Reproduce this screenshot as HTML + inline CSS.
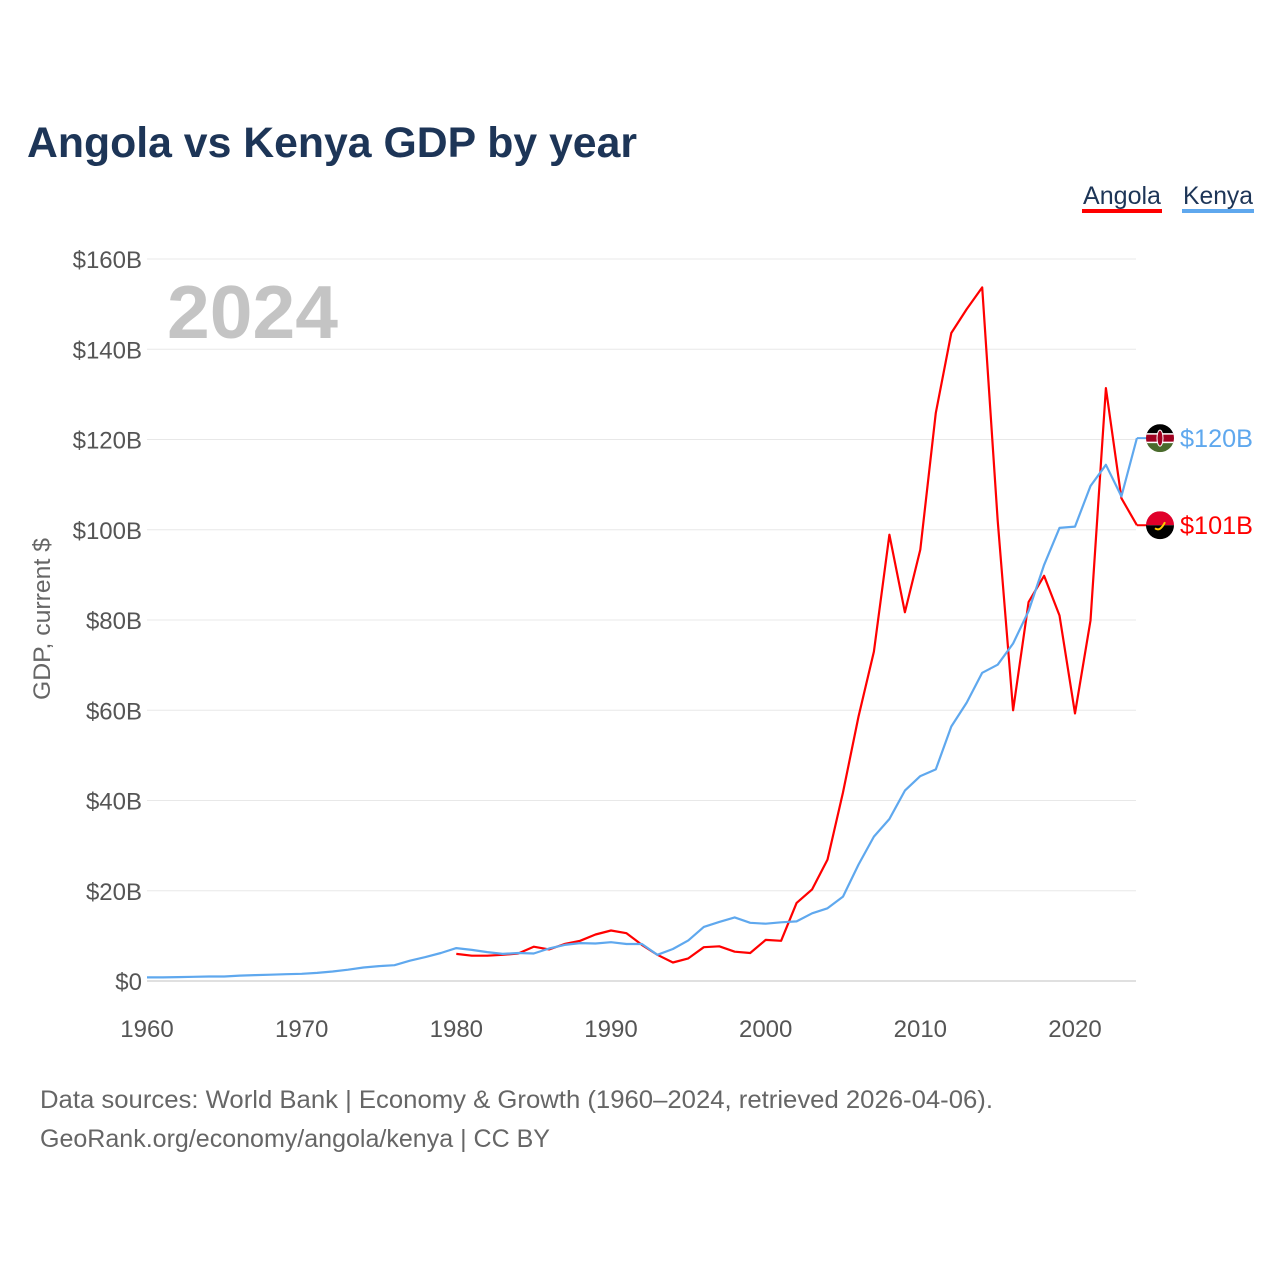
<!DOCTYPE html>
<html><head><meta charset="utf-8"><style>
body{margin:0;background:#fff;}
svg{display:block;font-family:"Liberation Sans",sans-serif;}
</style></head><body>
<svg id="chart" width="1280" height="1280" viewBox="0 0 1280 1280">
<text x="27" y="157" font-size="43" font-weight="bold" fill="#1d3557" textLength="610" lengthAdjust="spacingAndGlyphs">Angola vs Kenya GDP by year</text>
<g>
<text x="1083" y="204" font-size="25" fill="#1d3557" textLength="78" lengthAdjust="spacingAndGlyphs">Angola</text>
<rect x="1082" y="209" width="80" height="4" fill="#ff0000"/>
<text x="1183" y="204" font-size="25" fill="#1d3557" textLength="70" lengthAdjust="spacingAndGlyphs">Kenya</text>
<rect x="1182" y="209" width="72" height="4" fill="#5fa8ee"/>
</g>
<g id="grid"></g>
<g id="yticks"></g>
<g id="xticks"></g>
<text x="167" y="338" font-size="75" font-weight="bold" fill="#c4c4c4" textLength="171" lengthAdjust="spacingAndGlyphs">2024</text>
<text transform="translate(50,619) rotate(-90)" text-anchor="middle" font-size="24" fill="#666" textLength="162" lengthAdjust="spacingAndGlyphs">GDP, current $</text>
<g id="series"></g>
<g id="ends"></g>
<text x="40" y="1108" font-size="25" fill="#666" textLength="953" lengthAdjust="spacingAndGlyphs">Data sources: World Bank | Economy &amp; Growth (1960–2024, retrieved 2026-04-06).</text>
<text x="40" y="1147" font-size="25" fill="#666" textLength="510" lengthAdjust="spacingAndGlyphs">GeoRank.org/economy/angola/kenya | CC BY</text>
</svg>
<script>
const yTicks=[0,20,40,60,80,100,120,140,160];
const yTickLabels=["$0","$20B","$40B","$60B","$80B","$100B","$120B","$140B","$160B"];
const xTicks=[1960,1970,1980,1990,2000,2010,2020];
const angolaStart=1980;
const angolaValues=[6.0,5.6,5.6,5.8,6.1,7.6,7.0,8.2,8.9,10.3,11.2,10.6,8.0,5.8,4.1,5.0,7.5,7.7,6.5,6.2,9.1,8.9,17.3,20.3,26.9,41.8,58.6,73.0,98.9,81.7,95.6,125.9,143.6,148.9,153.7,102,60.0,84.0,89.8,81.0,59.3,79.9,131.4,107,101];
const kenyaStart=1960;
const kenyaValues=[0.79,0.79,0.87,0.93,1.0,1.0,1.2,1.3,1.4,1.5,1.6,1.8,2.1,2.5,3.0,3.3,3.5,4.5,5.3,6.2,7.3,6.9,6.4,6.0,6.2,6.1,7.2,8.0,8.4,8.3,8.6,8.2,8.2,5.8,7.1,9.0,12.0,13.1,14.1,12.9,12.7,13.0,13.2,15.0,16.1,18.7,25.8,32.0,35.9,42.2,45.4,46.9,56.4,61.7,68.3,70.1,74.8,82.0,92.2,100.4,100.7,109.7,114.4,107.4,120.3];
const NS="http://www.w3.org/2000/svg";
const x=yr=>147+(yr-1960)*(928/60);
const y=v=>981-v*(722/160);
function mk(t,a,p){const e=document.createElementNS(NS,t);for(const k in a)e.setAttribute(k,a[k]);p.appendChild(e);return e;}
const grid=document.getElementById('grid'),yt=document.getElementById('yticks'),xt=document.getElementById('xticks');
yTicks.forEach((v,i)=>{
 const l=mk('line',{x1:147,x2:1136,y1:y(v),y2:y(v),stroke:v===0?'#e0e0e0':'#e8e8e8','stroke-width':v===0?2:1},grid);
 
 
 const t=mk('text',{x:142,y:y(v)+9,'text-anchor':'end','font-size':24,fill:'#555'},yt);
 t.textContent=yTickLabels[i];
 
 
});
xTicks.forEach(yr=>{
 const t=mk('text',{x:x(yr),y:1037,'text-anchor':'middle','font-size':24,fill:'#555'},xt);
 t.textContent=yr;
 
 
});
const ser=document.getElementById('series');
function line(vals,start,color,name){
 const pts=vals.map((v,i)=>x(start+i).toFixed(1)+','+y(v).toFixed(1)).join(' ');
 const p=mk('polyline',{points:pts,fill:'none',stroke:color,'stroke-width':2.2,'stroke-linejoin':'round'},ser);
 
 
}
line(angolaValues,angolaStart,'#ff0000','angola-line');
line(kenyaValues,kenyaStart,'#5fa8ee','kenya-line');
const ends=document.getElementById('ends');
function endLabel(vals,start,color,name,flag){
 const v=vals[vals.length-1],yr=start+vals.length-1;
 const py=y(v);
 mk('line',{x1:x(yr),x2:1147,y1:py,y2:py,stroke:color,'stroke-width':2},ends);
 const g=mk('g',{},ends);
 
 
 const cid='c'+name;
 const cp=mk('clipPath',{id:cid},g);mk('circle',{cx:1160,cy:py,r:14},cp);
 const fg=mk('g',{'clip-path':'url(#'+cid+')'},g);
 if(flag==='ke'){
  mk('rect',{x:1146,y:py-14,width:28,height:10,fill:'#000'},fg);
  mk('rect',{x:1146,y:py-4,width:28,height:8,fill:'#a00020'},fg);
  mk('rect',{x:1146,y:py+4,width:28,height:10,fill:'#4a6b2c'},fg);
  mk('rect',{x:1146,y:py-5,width:28,height:1.5,fill:'#fff'},fg);
  mk('rect',{x:1146,y:py+3.5,width:28,height:1.5,fill:'#fff'},fg);
  mk('ellipse',{cx:1160,cy:py,rx:3,ry:8,fill:'#a00020',stroke:'#fff','stroke-width':1},fg);
 }else{
  mk('rect',{x:1146,y:py-14,width:28,height:14,fill:'#e0002a'},fg);
  mk('rect',{x:1146,y:py,width:28,height:14,fill:'#000'},fg);
  mk('path',{d:`M1155 ${py+3} Q1160 ${py+7} 1165 ${py-3}`,stroke:'#ffcb00','stroke-width':2,fill:'none'},fg);
 }
 const t=mk('text',{x:1180,y:py+9,'font-size':25,fill:color,textLength:73,lengthAdjust:'spacingAndGlyphs'},ends);
 t.textContent='$'+Math.round(v)+'B';
 
 
}
endLabel(kenyaValues,kenyaStart,'#5fa8ee','kenya','ke');
endLabel(angolaValues,angolaStart,'#ff0000','angola','ao');
</script>
</body></html>
